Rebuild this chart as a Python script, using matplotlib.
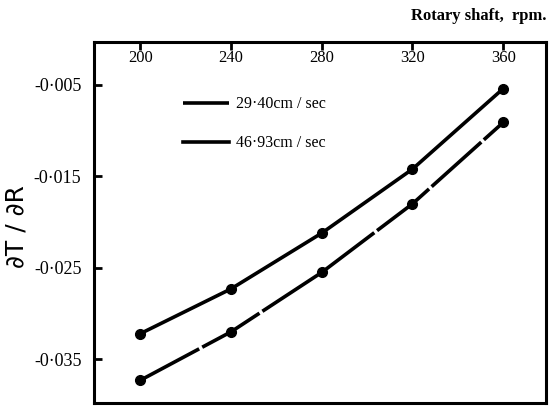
import matplotlib
matplotlib.use("Agg")
import matplotlib.pyplot as plt

plt.rcParams['font.family'] = ['Liberation Serif', 'DejaVu Serif']
plt.rcParams['lines.scale_dashes'] = False

# данные
rpm = [200, 240, 280, 320, 360]
v_2940 = [-0.0373, -0.0320, -0.0255, -0.0180, -0.0091]  # 29·40cm / sec
v_4693 = [-0.0322, -0.0273, -0.0212, -0.0142, -0.0054]  # 46·93cm / sec

xticks = [200, 240, 280, 320, 360]
yticks = [-0.005, -0.015, -0.025, -0.035]
ytick_labels = ["-0·005", "-0·015", "-0·025", "-0·035"]

fig = plt.figure(figsize=(5.49, 4.08), dpi=100)
ax = fig.add_axes([0.171, 0.012, 0.824, 0.885])

ax.plot(rpm, v_2940, color="black", lw=2.6, ls=(0, (48, 2.5)),
        marker="o", ms=7, label="29·40cm / sec")
ax.plot(rpm, v_4693, color="black", lw=2.6,
        marker="o", ms=7, label="46·93cm / sec")

ax.set_xlim(179.5, 379)
ax.set_ylim(-0.0398, -0.0003)

ax.xaxis.tick_top()
ax.set_xticks(xticks)
ax.set_xticklabels([str(x) for x in xticks])
ax.tick_params(axis="x", direction="in", length=6, width=2, pad=-17, labelsize=12)
ax.set_yticks(yticks)
ax.set_yticklabels(ytick_labels)
ax.tick_params(axis="y", direction="in", length=6, width=2, pad=9, labelsize=13)
for s in ax.spines.values():
    s.set_linewidth(2.2)

ax.set_ylabel("∂T / ∂R", family="DejaVu Sans", fontsize=18)
ax.yaxis.set_label_coords(-0.145, 0.49)

fig.text(0.995, 0.96, "Rotary shaft,  rpm.", ha="right", va="center",
         fontsize=12, fontweight="bold")

ax.legend(loc="upper left", bbox_to_anchor=(0.165, 0.89), frameon=False,
          handlelength=2.9, labelspacing=1.45, fontsize=11.5, markerscale=0,
          handletextpad=0.4)

fig.savefig("out.png", dpi=100)
